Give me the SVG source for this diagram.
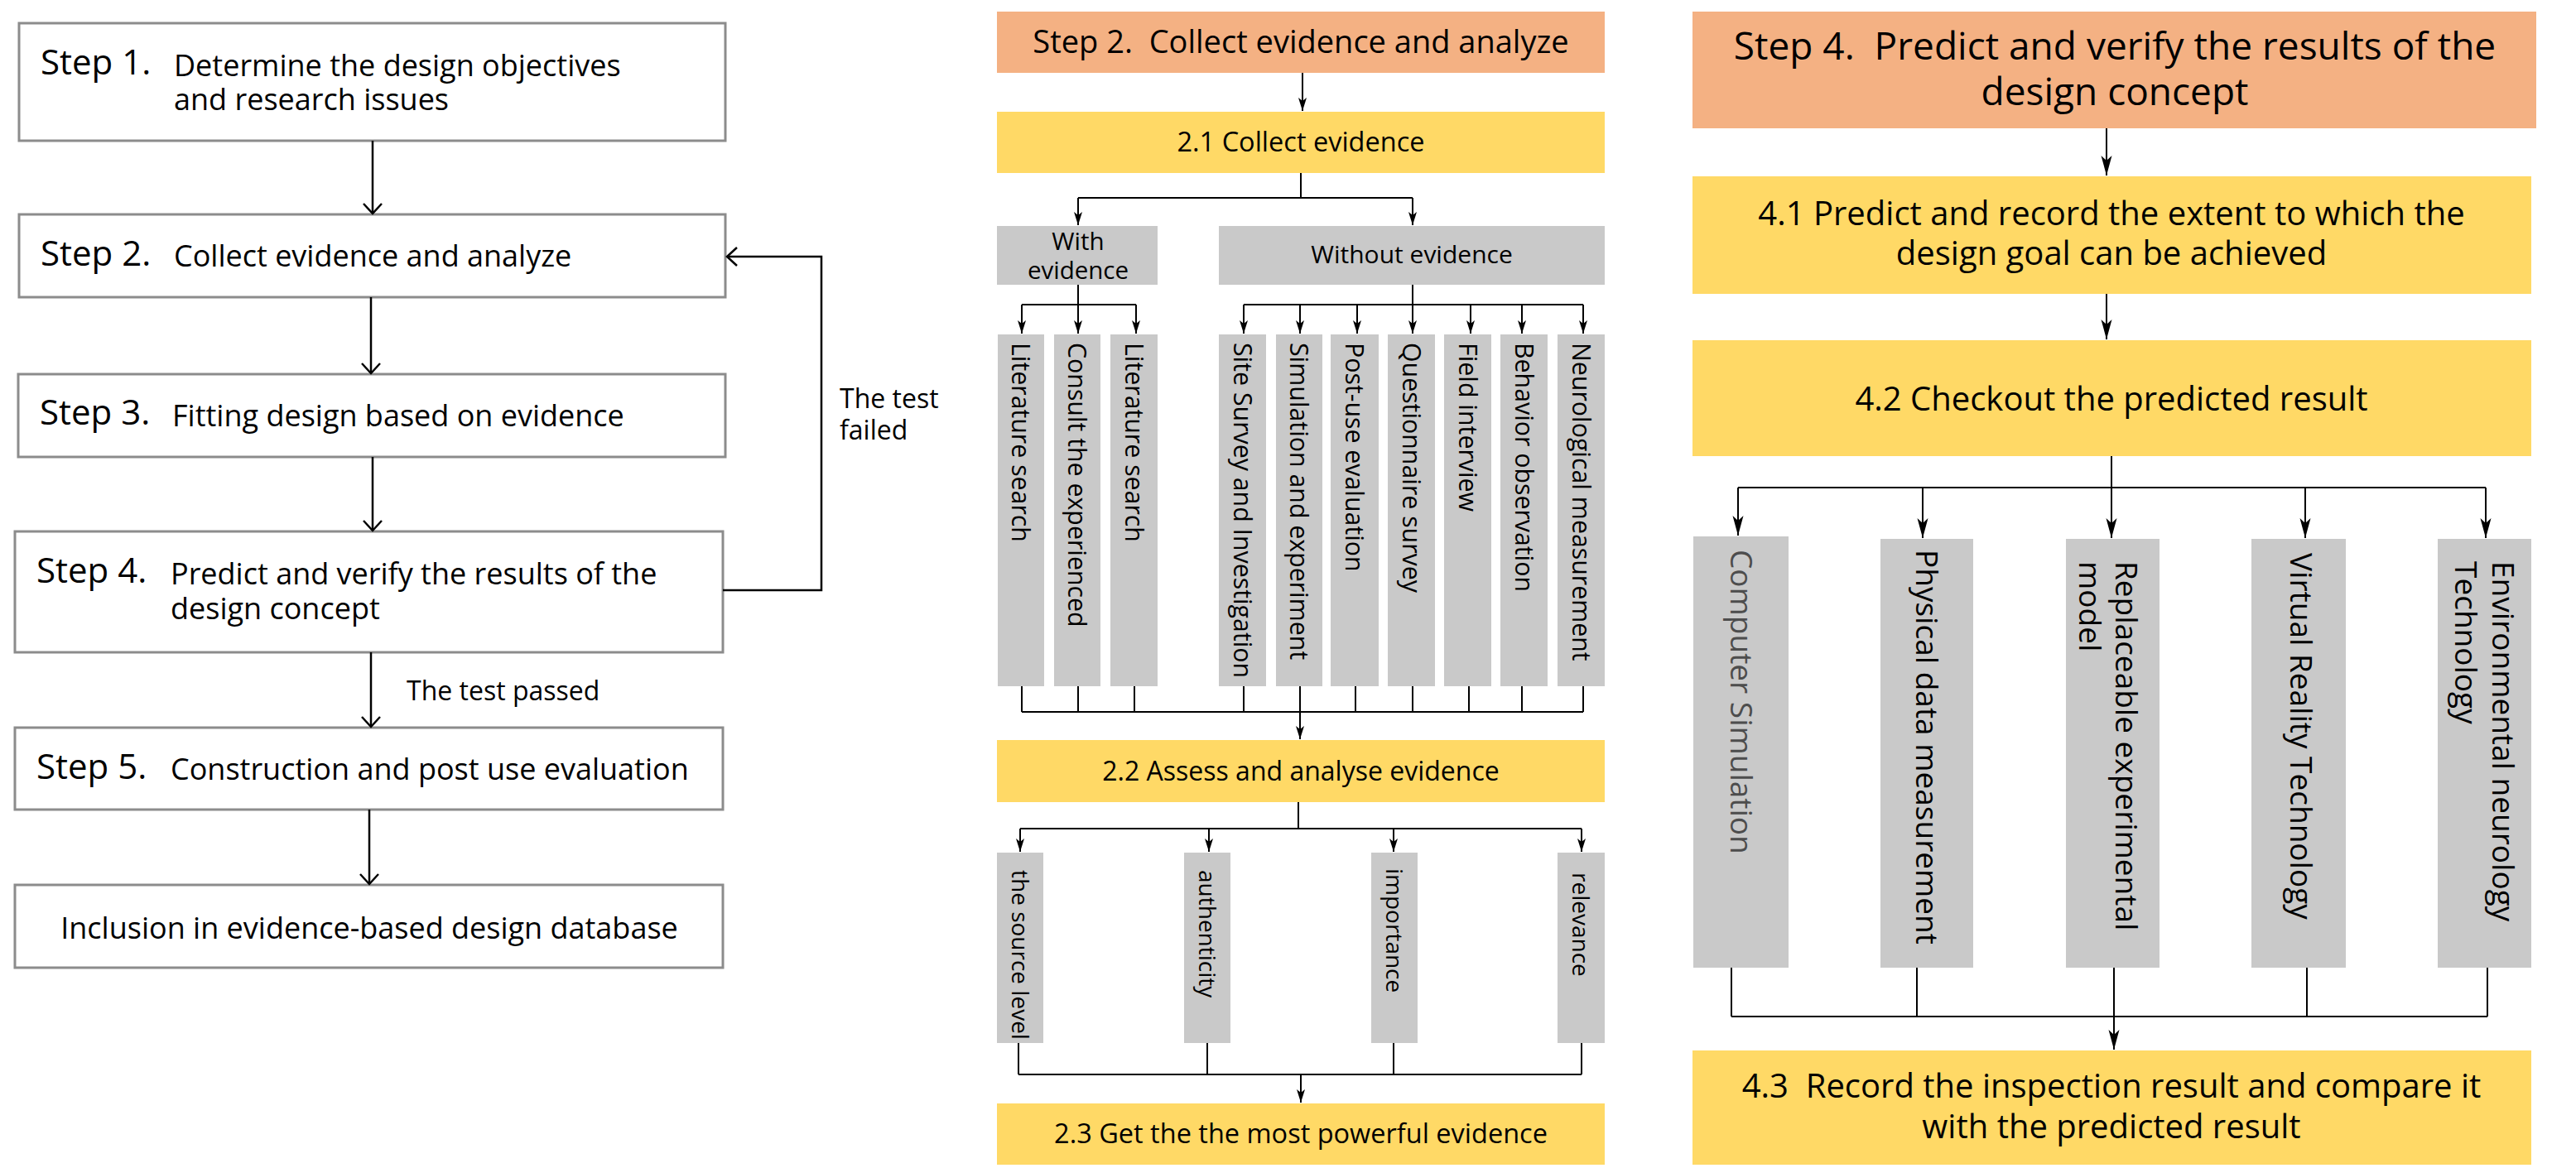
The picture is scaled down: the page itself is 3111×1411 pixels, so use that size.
<svg xmlns="http://www.w3.org/2000/svg" width="3111" height="1411" viewBox="0 0 3111 1411">
<style>
text{font-family:"Open Sans","Noto Sans","Liberation Sans",sans-serif;fill:#000}
.lb{fill:#fff;stroke:#8c8c8c;stroke-width:3}
.step{font-size:42px}
.desc{font-size:36px}
.lab{font-size:32px}
.sal{fill:#F4B183}
.yel{fill:#FFD966}
.gry{fill:#C9C9C9}
.lc{fill:none;stroke:#000;stroke-width:2.5}
.mc{fill:none;stroke:#000;stroke-width:2}
.rc{fill:none;stroke:#000;stroke-width:2}
.v29{font-size:30.3px}
.v28{font-size:28px}
.v37{font-size:37px}
.mid{text-anchor:middle}
</style>
<defs>
<marker id="chev" markerUnits="userSpaceOnUse" markerWidth="30" markerHeight="30" refX="13" refY="12" orient="auto">
<path d="M1,1 L13,12 L1,23" fill="none" stroke="#000" stroke-width="2.5"/>
</marker>
<marker id="stm" markerUnits="userSpaceOnUse" markerWidth="20" markerHeight="12" refX="16" refY="5" orient="auto">
<path d="M0,0 L16,5 L0,10 L4,5 z" fill="#000"/>
</marker>
<marker id="str" markerUnits="userSpaceOnUse" markerWidth="28" markerHeight="16" refX="24" refY="6.5" orient="auto">
<path d="M0,0 L24,6.5 L0,13 L6,6.5 z" fill="#000"/>
</marker>
</defs>

<!-- Left column -->
<g id="step1"><rect class="lb" x="23" y="28" width="853" height="142"/>
<text class="step" x="49" y="90">Step 1.</text>
<text class="desc" x="210" y="92"><tspan x="210" y="92">Determine the design objectives</tspan><tspan x="210" y="133">and research issues</tspan></text></g>
<g id="step2"><rect class="lb" x="23" y="259" width="853" height="100"/>
<text class="step" x="49" y="321">Step 2.</text>
<text class="desc" x="210" y="322">Collect evidence and analyze</text></g>
<g id="step3"><rect class="lb" x="22" y="452" width="854" height="100"/>
<text class="step" x="48" y="513">Step 3.</text>
<text class="desc" x="208" y="515">Fitting design based on evidence</text></g>
<g id="step4"><rect class="lb" x="18" y="642" width="855" height="146"/>
<text class="step" x="44" y="704">Step 4.</text>
<text class="desc"><tspan x="206" y="706">Predict and verify the results of the</tspan><tspan x="206" y="748">design concept</tspan></text></g>
<g id="step5"><rect class="lb" x="18" y="879" width="855" height="99"/>
<text class="step" x="44" y="941">Step 5.</text>
<text class="desc" x="206" y="942">Construction and post use evaluation</text></g>
<g id="inclusion"><rect class="lb" x="18" y="1069" width="855" height="100"/>
<text class="desc mid" x="446" y="1134">Inclusion in evidence-based design database</text></g>

<!-- Middle column -->
<g id="m-step2"><rect class="sal" x="1204" y="14" width="734" height="74"/>
<text class="mid" x="1571" y="64" font-size="38">Step 2.&#160; Collect evidence and analyze</text></g>
<g id="m-21"><rect class="yel" x="1204" y="135" width="734" height="74"/>
<text class="mid" x="1571" y="183" font-size="32.5">2.1 Collect evidence</text></g>
<g id="m-with"><rect class="gry" x="1204" y="273" width="194" height="71"/>
<text class="mid" font-size="29.5"><tspan x="1302" y="302">With</tspan><tspan x="1302" y="337">evidence</tspan></text></g>
<g id="m-without"><rect class="gry" x="1472" y="273" width="466" height="71"/>
<text class="mid" x="1705" y="318" font-size="30">Without evidence</text></g>

<g id="m-lit1"><rect class="gry" x="1205" y="404" width="56" height="425"/>
<text class="v29" transform="translate(1222,414) rotate(90)">Literature search</text></g>
<g id="m-consult"><rect class="gry" x="1273" y="404" width="56" height="425"/>
<text class="v29" transform="translate(1290,414) rotate(90)">Consult the experienced</text></g>
<g id="m-lit2"><rect class="gry" x="1341" y="404" width="57" height="425"/>
<text class="v29" transform="translate(1359,414) rotate(90)">Literature search</text></g>
<g id="m-site"><rect class="gry" x="1472" y="404" width="57" height="425"/>
<text class="v29" transform="translate(1490,414) rotate(90)">Site Survey and Investigation</text></g>
<g id="m-sim"><rect class="gry" x="1541" y="404" width="56" height="425"/>
<text class="v29" transform="translate(1558,414) rotate(90)">Simulation and experiment</text></g>
<g id="m-post"><rect class="gry" x="1607" y="404" width="58" height="425"/>
<text class="v29" transform="translate(1625,414) rotate(90)">Post-use evaluation</text></g>
<g id="m-quest"><rect class="gry" x="1676" y="404" width="57" height="425"/>
<text class="v29" transform="translate(1694,414) rotate(90)">Questionnaire survey</text></g>
<g id="m-field"><rect class="gry" x="1744" y="404" width="57" height="425"/>
<text class="v29" transform="translate(1762,414) rotate(90)">Field interview</text></g>
<g id="m-behav"><rect class="gry" x="1812" y="404" width="57" height="425"/>
<text class="v29" transform="translate(1830,414) rotate(90)">Behavior observation</text></g>
<g id="m-neuro"><rect class="gry" x="1881" y="404" width="57" height="425"/>
<text class="v29" transform="translate(1899,414) rotate(90)">Neurological measurement</text></g>

<g id="m-22"><rect class="yel" x="1204" y="894" width="734" height="75"/>
<text class="mid" x="1571" y="943" font-size="32">2.2 Assess and analyse evidence</text></g>
<g id="m-source"><rect class="gry" x="1204" y="1030" width="56" height="230"/>
<text class="v28" transform="translate(1222,1051) rotate(90)">the source level</text></g>
<g id="m-auth"><rect class="gry" x="1430" y="1030" width="56" height="230"/>
<text class="v28" transform="translate(1448,1051) rotate(90)">authenticity</text></g>
<g id="m-imp"><rect class="gry" x="1656" y="1030" width="56" height="230"/>
<text class="v28" transform="translate(1674,1049) rotate(90)">importance</text></g>
<g id="m-rel"><rect class="gry" x="1881" y="1030" width="57" height="230"/>
<text class="v28" transform="translate(1899,1054) rotate(90)">relevance</text></g>
<g id="m-23"><rect class="yel" x="1204" y="1333" width="734" height="74"/>
<text class="mid" x="1571" y="1381" font-size="32.5">2.3 Get the the most powerful evidence</text></g>

<!-- Right column -->
<g id="r-step4"><rect class="sal" x="2044" y="14" width="1019" height="141"/>
<text class="mid" font-size="46"><tspan x="2554" y="72">Step 4.&#160; Predict and verify the results of the</tspan><tspan x="2554" y="127">design concept</tspan></text></g>
<g id="r-41"><rect class="yel" x="2044" y="213" width="1013" height="142"/>
<text class="mid" font-size="40"><tspan x="2550" y="272">4.1 Predict and record the extent to which the</tspan><tspan x="2550" y="320">design goal can be achieved</tspan></text></g>
<g id="r-42"><rect class="yel" x="2044" y="411" width="1013" height="140"/>
<text class="mid" x="2550" y="496" font-size="40">4.2 Checkout the predicted result</text></g>
<g id="r-comp"><rect class="gry" x="2045" y="648" width="115" height="521"/>
<text class="v37" style="fill:#4d4d4d" transform="translate(2090,664) rotate(90)">Computer Simulation</text></g>
<g id="r-phys"><rect class="gry" x="2271" y="651" width="112" height="518"/>
<text class="v37" transform="translate(2314,664) rotate(90)">Physical data measurement</text></g>
<g id="r-repl"><rect class="gry" x="2495" y="651" width="113" height="518"/>
<text class="v37" transform="translate(2555,678) rotate(90)"><tspan x="0" y="0">Replaceable experimental</tspan><tspan x="0" dy="44">model</tspan></text></g>
<g id="r-vr"><rect class="gry" x="2719" y="651" width="114" height="518"/>
<text class="v37" transform="translate(2766,668) rotate(90)">Virtual Reality Technology</text></g>
<g id="r-env"><rect class="gry" x="2944" y="651" width="113" height="518"/>
<text class="v37" transform="translate(3010,678) rotate(90)"><tspan x="0" y="0">Environmental neurology</tspan><tspan x="0" dy="45">Technology</tspan></text></g>
<g id="r-43"><rect class="yel" x="2044" y="1269" width="1013" height="138"/>
<text class="mid" font-size="40"><tspan x="2550" y="1326">4.3&#160; Record the inspection result and compare it</tspan><tspan x="2550" y="1375">with the predicted result</tspan></text></g>

<!-- Connectors -->
<g id="connectors">
<path class="lc" d="M450,170 V258" marker-end="url(#chev)"/>
<path class="lc" d="M448,359 V451" marker-end="url(#chev)"/>
<path class="lc" d="M450,552 V641" marker-end="url(#chev)"/>
<path class="lc" d="M448,788 V878" marker-end="url(#chev)"/>
<path class="lc" d="M446,978 V1068" marker-end="url(#chev)"/>
<path class="lc" d="M873,713 H992 V310 H878" marker-end="url(#chev)"/>

<path class="mc" d="M1573,88 V134" marker-end="url(#stm)"/>
<path class="mc" d="M1571,209 V239 M1302,239 H1706"/>
<path class="mc" d="M1302,239 V272" marker-end="url(#stm)"/>
<path class="mc" d="M1706,239 V272" marker-end="url(#stm)"/>
<path class="mc" d="M1302,344 V368 M1234,368 H1372 M1706,344 V368 M1502,368 H1912"/>
<path class="mc" d="M1234,368 V403" marker-end="url(#stm)"/>
<path class="mc" d="M1302,368 V403" marker-end="url(#stm)"/>
<path class="mc" d="M1372,368 V403" marker-end="url(#stm)"/>
<path class="mc" d="M1502,368 V403" marker-end="url(#stm)"/>
<path class="mc" d="M1570,368 V403" marker-end="url(#stm)"/>
<path class="mc" d="M1639,368 V403" marker-end="url(#stm)"/>
<path class="mc" d="M1706,368 V403" marker-end="url(#stm)"/>
<path class="mc" d="M1776,368 V403" marker-end="url(#stm)"/>
<path class="mc" d="M1838,368 V403" marker-end="url(#stm)"/>
<path class="mc" d="M1912,368 V403" marker-end="url(#stm)"/>
<path class="mc" d="M1234,829 V860 M1302,829 V860 M1370,829 V860 M1502,829 V860 M1637,829 V860 M1706,829 V860 M1774,829 V860 M1838,829 V860 M1912,829 V860 M1234,860 H1912"/>
<path class="mc" d="M1570,829 V893" marker-end="url(#stm)"/>
<path class="mc" d="M1568,969 V1001 M1232,1001 H1910"/>
<path class="mc" d="M1232,1001 V1029" marker-end="url(#stm)"/>
<path class="mc" d="M1460,1001 V1029" marker-end="url(#stm)"/>
<path class="mc" d="M1683,1001 V1029" marker-end="url(#stm)"/>
<path class="mc" d="M1910,1001 V1029" marker-end="url(#stm)"/>
<path class="mc" d="M1230,1260 V1298 M1458,1260 V1298 M1683,1260 V1298 M1910,1260 V1298 M1230,1298 H1910"/>
<path class="mc" d="M1571,1298 V1332" marker-end="url(#stm)"/>

<path class="rc" d="M2544,155 V212" marker-end="url(#str)"/>
<path class="rc" d="M2544,355 V410" marker-end="url(#str)"/>
<path class="rc" d="M2550,551 V589 M2099,589 H3002"/>
<path class="rc" d="M2099,589 V647" marker-end="url(#str)"/>
<path class="rc" d="M2322,589 V650" marker-end="url(#str)"/>
<path class="rc" d="M2550,589 V650" marker-end="url(#str)"/>
<path class="rc" d="M2784,589 V650" marker-end="url(#str)"/>
<path class="rc" d="M3002,589 V650" marker-end="url(#str)"/>
<path class="rc" d="M2091,1169 V1228 M2315,1169 V1228 M2786,1169 V1228 M3004,1169 V1228 M2091,1228 H3004"/>
<path class="rc" d="M2553,1169 V1268" marker-end="url(#str)"/>
</g>

<!-- Labels -->
<g id="labels">
<text class="lab" x="491" y="846">The test passed</text>
<text class="lab"><tspan x="1014" y="493">The test</tspan><tspan x="1014" y="531">failed</tspan></text>
</g>
</svg>
